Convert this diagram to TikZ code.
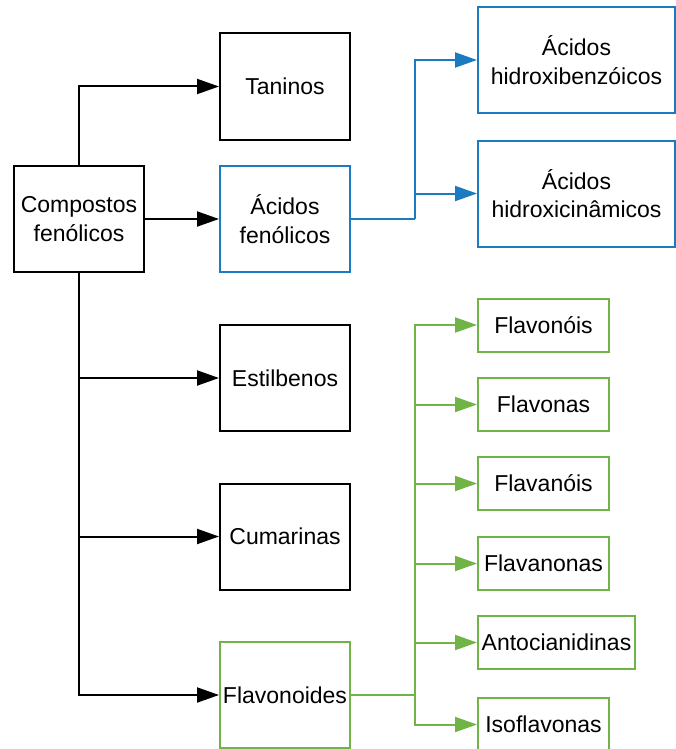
\documentclass[tikz,border=0pt]{standalone}
\usepackage{fontspec}
\setmainfont{Liberation Sans}
\usetikzlibrary{arrows.meta}
\definecolor{cblue}{RGB}{27,123,192}
\definecolor{cgreen}{RGB}{112,180,72}
\begin{document}
\begin{tikzpicture}[x=1pt,y=-1pt,
  box/.style={draw=black,line width=2pt,rectangle,align=center,inner sep=0pt,
    font=\fontsize{23}{28.5}\selectfont,minimum width=130pt,minimum height=106pt},
  bbox/.style={box,draw=cblue,minimum width=197pt},
  gbox/.style={box,draw=cgreen,minimum width=131pt,minimum height=53pt},
  conn/.style={line width=2pt,-{Triangle[length=22pt,width=15pt]}},
  bconn/.style={conn,draw=cblue,-{Triangle[length=22pt,width=15pt,fill=cblue]}},
  gconn/.style={conn,draw=cgreen,-{Triangle[length=22pt,width=15pt,fill=cgreen]}}]
\useasboundingbox (0,0) rectangle (676,749);
\node[box] (comp) at (79,219) {Compostos\\fenólicos};
\node[box] (tan) at (285,86.5) {Taninos};
\node[box,draw=cblue] (acf) at (285,219) {Ácidos\\fenólicos};
\node[box] (est) at (285,378) {Estilbenos};
\node[box] (cum) at (285,536.5) {Cumarinas};
\node[box,draw=cgreen] (flv) at (285,695) {Flavonoides};
\node[bbox] (hb) at (576.5,60) {Ácidos\\hidroxibenzóicos};
\node[bbox] (hc) at (576.5,193.5) {Ácidos\\hidroxicinâmicos};
\node[gbox] (f1) at (543.5,325) {Flavonóis};
\node[gbox] (f2) at (543.5,404.5) {Flavonas};
\node[gbox] (f3) at (543.5,483.5) {Flavanóis};
\node[gbox] (f4) at (543.5,563.5) {Flavanonas};
\node[gbox,minimum width=157pt] (f5) at (556.5,642.5) {Antocianidinas};
\node[gbox] (f6) at (543.5,724.5) {Isoflavonas};
\coordinate (bj) at (415,219);
\coordinate (gj) at (415,695);
\draw[conn] (comp.north) |- (tan.west);
\draw[conn] (comp.east) -- (acf.west);
\draw[conn] (comp.south) |- (est.west);
\draw[conn] (comp.south) |- (cum.west);
\draw[conn] (comp.south) |- (flv.west);
\draw[line width=2pt,cblue] (acf.east) -- (bj);
\draw[bconn] (bj) |- (hb.west);
\draw[bconn] (bj) |- (hc.west);
\draw[line width=2pt,cgreen] (flv.east) -- (gj);
\foreach \n in {f1,f2,f3,f4,f5,f6}{\draw[gconn] (gj) |- (\n.west);}
\end{tikzpicture}
\end{document}
